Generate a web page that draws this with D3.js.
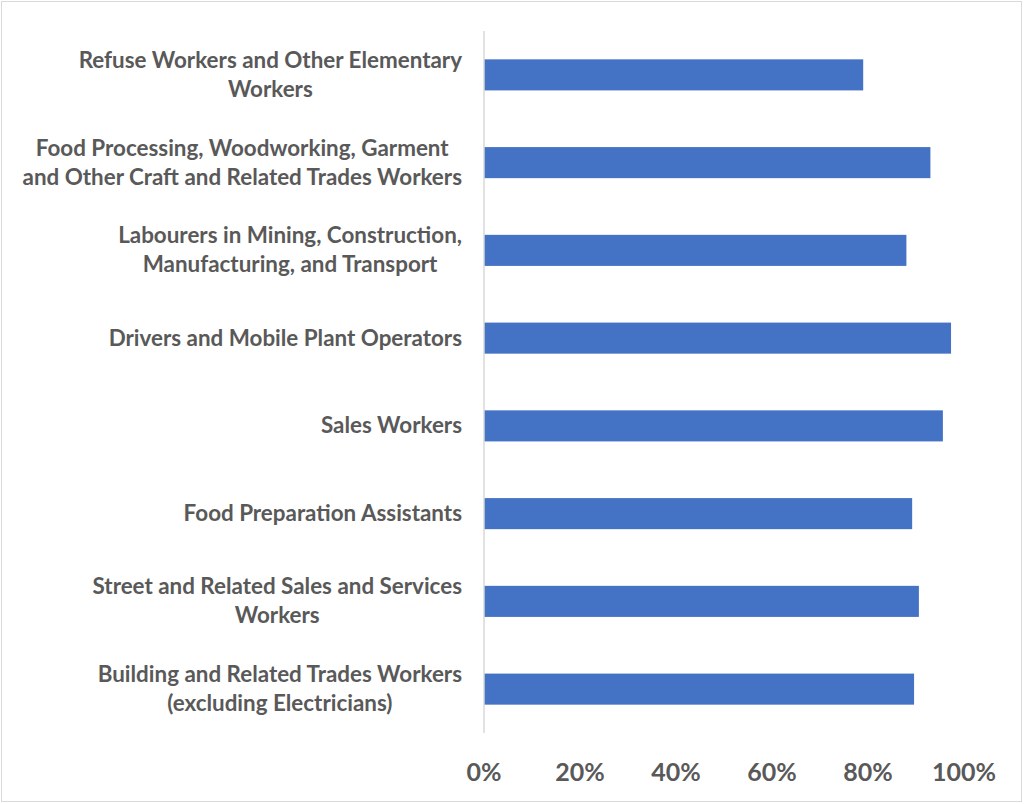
<!DOCTYPE html>
<html>
<head>
<meta charset="utf-8">
<script src="https://cdn.jsdelivr.net/npm/d3@7"></script>
<style>
  body { margin: 0; background: white; }
  text { font-family: Lato, "Open Sans", sans-serif; font-weight: bold; fill: #595959; }
</style>
</head>
<body>
<div id="container"></div>
<script>
let w = 1024;
let h = 804;

// each label is a list of lines
let categories = [
  ["Refuse Workers and Other Elementary", "Workers"],
  ["Food Processing, Woodworking, Garment", "and Other Craft and Related Trades Workers"],
  ["Labourers in Mining, Construction,", "Manufacturing, and Transport"],
  ["Drivers and Mobile Plant Operators"],
  ["Sales Workers"],
  ["Food Preparation Assistants"],
  ["Street and Related Sales and Services", "Workers"],
  ["Building and Related Trades Workers", "(excluding Electricians)"]
];
let values = [0.79, 0.93, 0.88, 0.973, 0.956, 0.892, 0.906, 0.896];
let ticks = [0, 0.2, 0.4, 0.6, 0.8, 1.0];

let viz = d3.select("#container")
  .append("svg")
  .attr("width", w)
  .attr("height", h);

viz.append("rect")
  .attr("x", 1.5)
  .attr("y", 1.5)
  .attr("width", 1020)
  .attr("height", 800)
  .attr("fill", "white")
  .attr("stroke", "#d9d9d9")
  .attr("stroke-width", 1);

let x = d3.scaleLinear().domain([0, 1]).range([484, 964]);
let y = d3.scaleBand()
  .domain(d3.range(categories.length))
  .range([31, 733])
  .paddingInner(0.646)
  .paddingOuter(0.323);

viz.append("g")
  .selectAll("rect")
  .data(values)
  .join("rect")
  .attr("x", x(0))
  .attr("y", (d, i) => y(i))
  .attr("width", d => x(d) - x(0))
  .attr("height", y.bandwidth())
  .attr("fill", "#4472c4");

// vertical axis line
viz.append("line")
  .attr("x1", x(0))
  .attr("x2", x(0))
  .attr("y1", 31)
  .attr("y2", 733)
  .attr("stroke", "#d9d9d9")
  .attr("stroke-width", 1.5);

// category labels, lines centered on each other, block right-aligned
let labelRight = 462;
let lineH = 29;
categories.forEach((lines, i) => {
  let g = viz.append("g");
  let cy = y(i) + y.bandwidth() / 2;
  let t = g.selectAll("text")
    .data(lines)
    .join("text")
    .attr("font-size", 22.4)
    .attr("text-anchor", "middle")
    .attr("dominant-baseline", "central")
    .attr("y", (d, j) => cy + (j - (lines.length - 1) / 2) * lineH - 1)
    .text(d => d);
  let maxW = d3.max(t.nodes(), n => n.getComputedTextLength());
  t.attr("x", labelRight - maxW / 2);
});

viz.append("g")
  .selectAll("text")
  .data(ticks)
  .join("text")
  .attr("x", d => x(d))
  .attr("y", 771)
  .attr("font-size", 25)
  .attr("text-anchor", "middle")
  .attr("dominant-baseline", "central")
  .text(d => d3.format(".0%")(d));
</script>
</body>
</html>
